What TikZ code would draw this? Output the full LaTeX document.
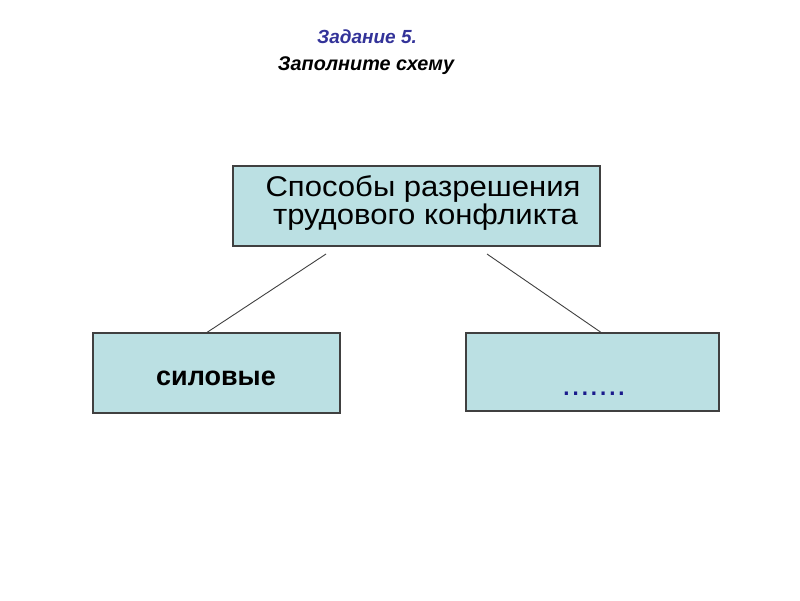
\documentclass[tikz,border=0pt]{standalone}
\usepackage{fontspec}
\setmainfont{Liberation Sans}
\newfontfamily\widesans[FakeStretch=1.09]{Liberation Sans}
\definecolor{boxfill}{HTML}{BBE0E3}
\definecolor{boxline}{HTML}{404040}
\definecolor{titleblue}{HTML}{333399}
\definecolor{dotblue}{HTML}{1A1A8C}
\begin{document}
\begin{tikzpicture}[x=1pt,y=-1pt,
  box/.style={draw=boxline, line width=1.2pt, fill=boxfill, inner sep=0pt},
  conn/.style={draw=boxline, line width=0.9pt},
  bigtext/.style={font=\widesans\fontsize{28.5}{30}\selectfont, anchor=base, inner sep=0pt}]
\useasboundingbox (0,0) rectangle (800,600);
\node[font=\fontsize{19}{22}\selectfont\bfseries\itshape, text=titleblue] (t1) at (367,37) {Задание 5.};
\node[font=\fontsize{19.8}{22}\selectfont\bfseries\itshape] (t2) at (366,66) {Заполните схему};
\node[box, minimum width=367pt, minimum height=80pt] (top) at (416.5,206) {};
\node[bigtext] (toptext1) at (423,196) {Способы разрешения};
\node[bigtext] (toptext2) at (425.5,224) {трудового конфликта};
\node[box, minimum width=247pt, minimum height=80pt] (left) at (216.5,373) {};
\node[font=\fontsize{27}{28}\selectfont\bfseries, anchor=base, inner sep=0pt] (lefttext) at (216,385) {силовые};
\node[box, minimum width=253pt, minimum height=78pt] (right) at (592.5,372) {};
\node[font=\fontsize{33}{34}\selectfont, text=dotblue, anchor=base, inner sep=0pt] (righttext) at (594,395) {.......};
\coordinate (l1) at (326,254);
\coordinate (r1) at (487,254);
\draw[conn] (l1) -- (left.north -| 207,0);
\draw[conn] (r1) -- (right.north -| 601,0);
\end{tikzpicture}
\end{document}
